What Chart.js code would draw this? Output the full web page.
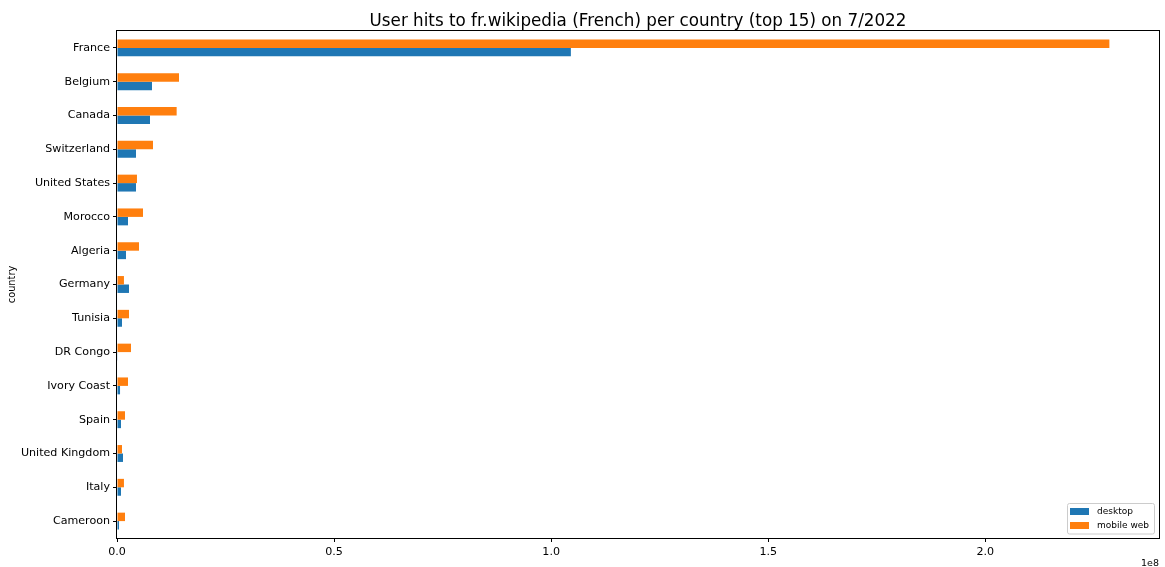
<!DOCTYPE html>
<html>
<head>
<meta charset="utf-8">
<script src="https://cdn.jsdelivr.net/npm/chart.js@4.4.1/dist/chart.umd.min.js"></script>
<style>
  html, body { margin: 0; padding: 0; background: #fff; }
  #wrap { width: 1165px; height: 567px; position: relative; }
</style>
</head>
<body>
<div id="wrap"><canvas id="c" width="1165" height="567"></canvas></div>
<script>
// Monthly user hits to fr.wikipedia, July 2022, top 15 countries
const countries = ["France", "Belgium", "Canada", "Switzerland", "United States", "Morocco",
  "Algeria", "Germany", "Tunisia", "DR Congo", "Ivory Coast", "Spain", "United Kingdom",
  "Italy", "Cameroon"];
const desktopHits = [104540000, 8060000, 7600000, 4370000, 4370000, 2530000, 2070000,
  2760000, 1150000, 150000, 700000, 920000, 1380000, 920000, 460000];
const mobileWebHits = [228570000, 14280000, 13740000, 8290000, 4600000, 5990000, 5070000,
  1600000, 2760000, 3220000, 2530000, 1840000, 1150000, 1600000, 1840000];
const xTickValues = [0, 0.5e8, 1.0e8, 1.5e8, 2.0e8];
const xMax = 2.40e8;

const titleText = "User hits to fr.wikipedia (French) per country (top 15) on 7/2022";
const FONT = "'DejaVu Sans', sans-serif";
const BLUE = "#1f77b4", ORANGE = "#ff7f0e";

// Frame, title, axis label, offset text and legend box drawn around the plot area
const decorations = {
  id: "decorations",
  afterDraw(chart) {
    const { ctx, chartArea: a } = chart;
    ctx.save();
    // spines
    ctx.strokeStyle = "#000";
    ctx.lineWidth = 1;
    ctx.strokeRect(Math.round(a.left) - 0.5, Math.round(a.top) - 0.5,
      Math.round(a.right - a.left) + 1, Math.round(a.bottom - a.top) + 1);
    // title
    ctx.fillStyle = "#000";
    ctx.font = "16.75px " + FONT;
    ctx.textAlign = "center";
    ctx.textBaseline = "alphabetic";
    ctx.fillText(titleText, (a.left + a.right) / 2, 26);
    // y axis label
    ctx.save();
    ctx.translate(12, (a.top + a.bottom) / 2);
    ctx.rotate(-Math.PI / 2);
    ctx.font = "9.8px " + FONT;
    ctx.textBaseline = "middle";
    ctx.fillText("country", 0, 0);
    ctx.restore();
    // scale offset
    ctx.font = "9.5px " + FONT;
    ctx.textAlign = "right";
    ctx.fillText("1e8", a.right, 566);
    // legend
    const bx = 1067, by = 503.5, bw = 87, bh = 30.5;
    ctx.beginPath();
    ctx.roundRect(bx + 0.5, by, bw, bh, 2);
    ctx.fillStyle = "rgba(255,255,255,0.8)";
    ctx.fill();
    ctx.strokeStyle = "#cccccc";
    ctx.stroke();
    const items = [
      { label: chart.data.datasets[1].label, color: chart.data.datasets[1].backgroundColor },
      { label: chart.data.datasets[0].label, color: chart.data.datasets[0].backgroundColor }
    ];
    ctx.font = "9px " + FONT;
    ctx.textAlign = "left";
    ctx.textBaseline = "middle";
    items.forEach((it, i) => {
      const y = 508 + i * 14;
      ctx.fillStyle = it.color;
      ctx.fillRect(1070, y, 19, 7);
      ctx.fillStyle = "#000";
      ctx.fillText(it.label, 1097, y + 3.5);
    });
    ctx.restore();
  }
};

new Chart(document.getElementById("c"), {
  type: "bar",
  data: {
    labels: countries,
    datasets: [
      { label: "mobile web", data: mobileWebHits, backgroundColor: ORANGE },
      { label: "desktop", data: desktopHits, backgroundColor: BLUE }
    ]
  },
  options: {
    indexAxis: "y",
    responsive: false,
    animation: false,
    devicePixelRatio: 1,
    layout: { padding: { top: 31, right: 6, left: 0, bottom: 0 } },
    datasets: { bar: { categoryPercentage: 0.5, barPercentage: 1.0, borderWidth: 0 } },
    plugins: { legend: { display: false }, title: { display: false }, tooltip: { enabled: false } },
    scales: {
      x: {
        min: 0,
        max: xMax,
        afterBuildTicks(scale) { scale.ticks = xTickValues.map(v => ({ value: v })); },
        afterFit(scale) { scale.height = 29; },
        grid: { drawOnChartArea: false, drawTicks: true, tickLength: 4, color: "#000" },
        border: { display: false },
        ticks: {
          color: "#000",
          padding: 3,
          maxRotation: 0,
          font: { family: FONT, size: 11.1 },
          callback: v => (v / 1e8).toFixed(1)
        }
      },
      y: {
        afterFit(scale) { scale.width = 117; },
        grid: { drawOnChartArea: false, drawTicks: true, tickLength: 4, color: "#000", offset: false },
        border: { display: false },
        ticks: { color: "#000", padding: 3, font: { family: FONT, size: 11.1 } }
      }
    }
  },
  plugins: [decorations]
});
</script>
</body>
</html>
